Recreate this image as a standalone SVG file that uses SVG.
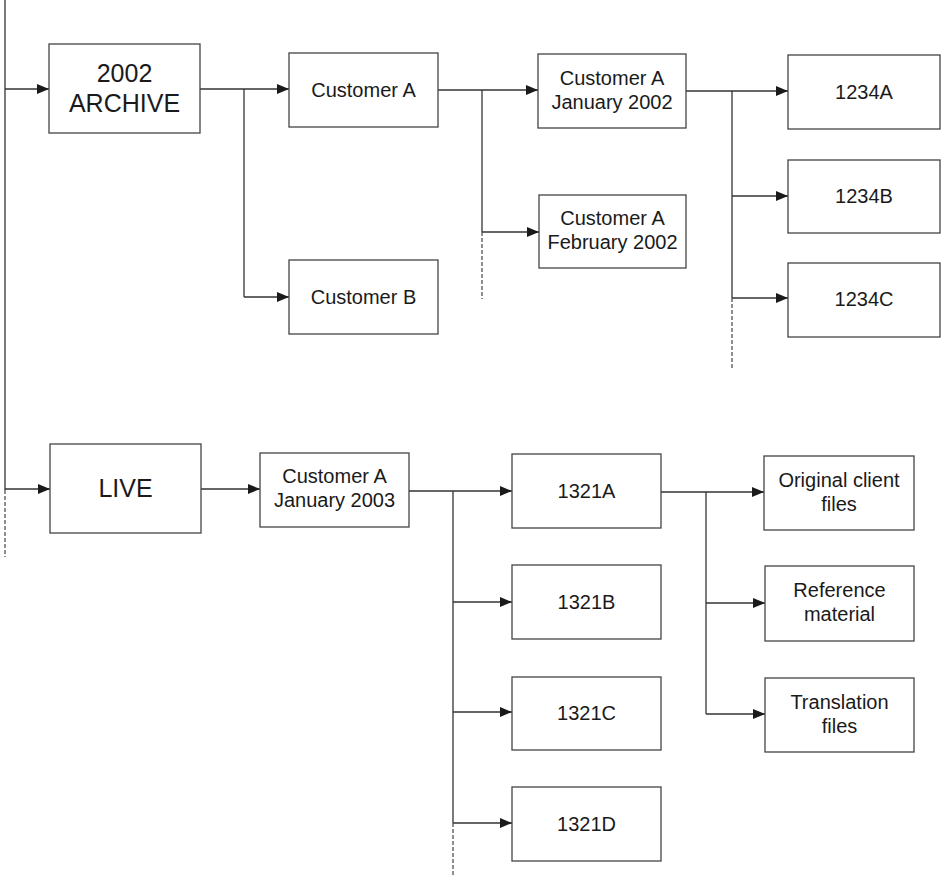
<svg xmlns="http://www.w3.org/2000/svg" width="944" height="877" viewBox="0 0 944 877">
<style>
.box{fill:#fff;stroke:#444;stroke-width:1.3}
.t{font-family:"Liberation Sans",Arial,sans-serif;font-size:20px;fill:#1a1a1a;text-anchor:middle}
.big{font-size:25px}
.ln{fill:none;stroke:#333;stroke-width:1.3}
.dash{fill:none;stroke:#444;stroke-width:1.2;stroke-dasharray:4 2}
.arr{fill:none;stroke:#333;stroke-width:1.3;marker-end:url(#ah)}
</style>
<defs>
<marker id="ah" markerWidth="12" markerHeight="10" refX="12" refY="5" orient="auto" markerUnits="userSpaceOnUse">
<path d="M0,0 L12,5 L0,10 Z" fill="#1a1a1a"/>
</marker>
</defs>
<rect width="944" height="877" fill="#fff"/>
<g id="connectors">
<path class="ln" d="M5,0 V490"/>
<path class="dash" d="M5,490 V557"/>
<path class="arr" d="M5,89 H49"/>
<path class="arr" d="M5,489 H50"/>
<path class="arr" d="M200,89 H289"/>
<path class="ln" d="M244,89 V297"/>
<path class="arr" d="M244,297 H289"/>
<path class="arr" d="M438,90 H538"/>
<path class="ln" d="M482,90 V232"/>
<path class="arr" d="M482,232 H539"/>
<path class="dash" d="M482,232 V299"/>
<path class="arr" d="M686,91 H788"/>
<path class="ln" d="M732,91 V298"/>
<path class="arr" d="M732,196 H788"/>
<path class="arr" d="M732,298 H788"/>
<path class="dash" d="M732,298 V368"/>
<path class="arr" d="M201,489 H260"/>
<path class="arr" d="M409,491 H512"/>
<path class="ln" d="M453,491 V823"/>
<path class="arr" d="M453,602 H512"/>
<path class="arr" d="M453,712 H512"/>
<path class="arr" d="M453,823 H512"/>
<path class="dash" d="M453,823 V875"/>
<path class="arr" d="M661,492 H764"/>
<path class="ln" d="M706,492 V714"/>
<path class="arr" d="M706,603 H765"/>
<path class="arr" d="M706,714 H765"/>
</g>
<g id="archive2002"><rect class="box" x="49" y="44" width="151" height="89"/><text class="t big" x="124.5" y="82">2002</text><text class="t big" x="124.5" y="112">ARCHIVE</text></g>
<g id="customerA"><rect class="box" x="289" y="53" width="149" height="74"/><text class="t" x="363.5" y="97">Customer A</text></g>
<g id="customerB"><rect class="box" x="289" y="260" width="149" height="74"/><text class="t" x="363.5" y="304">Customer B</text></g>
<g id="custAJan2002"><rect class="box" x="538" y="54" width="148" height="74"/><text class="t" x="612" y="85">Customer A</text><text class="t" x="612" y="109">January 2002</text></g>
<g id="custAFeb2002"><rect class="box" x="539" y="195" width="147" height="73"/><text class="t" x="612.5" y="225">Customer A</text><text class="t" x="612.5" y="249">February 2002</text></g>
<g id="n1234A"><rect class="box" x="788" y="55" width="152" height="74"/><text class="t" x="864" y="99">1234A</text></g>
<g id="n1234B"><rect class="box" x="788" y="160" width="152" height="73"/><text class="t" x="864" y="203">1234B</text></g>
<g id="n1234C"><rect class="box" x="788" y="263" width="152" height="74"/><text class="t" x="864" y="306">1234C</text></g>
<g id="live"><rect class="box" x="50" y="444" width="151" height="89"/><text class="t big" x="125.5" y="497">LIVE</text></g>
<g id="custAJan2003"><rect class="box" x="260" y="453" width="149" height="74"/><text class="t" x="334.5" y="483">Customer A</text><text class="t" x="334.5" y="507">January 2003</text></g>
<g id="n1321A"><rect class="box" x="512" y="454" width="149" height="74"/><text class="t" x="586.5" y="498">1321A</text></g>
<g id="n1321B"><rect class="box" x="512" y="565" width="149" height="74"/><text class="t" x="586.5" y="609">1321B</text></g>
<g id="n1321C"><rect class="box" x="512" y="677" width="149" height="73"/><text class="t" x="586.5" y="720">1321C</text></g>
<g id="n1321D"><rect class="box" x="512" y="787" width="149" height="74"/><text class="t" x="586.5" y="831">1321D</text></g>
<g id="origFiles"><rect class="box" x="764" y="456" width="150" height="74"/><text class="t" x="839" y="487">Original client</text><text class="t" x="839" y="511">files</text></g>
<g id="refMaterial"><rect class="box" x="765" y="566" width="149" height="75"/><text class="t" x="839.5" y="597">Reference</text><text class="t" x="839.5" y="621">material</text></g>
<g id="transFiles"><rect class="box" x="765" y="678" width="149" height="74"/><text class="t" x="839.5" y="709">Translation</text><text class="t" x="839.5" y="733">files</text></g>
</svg>
